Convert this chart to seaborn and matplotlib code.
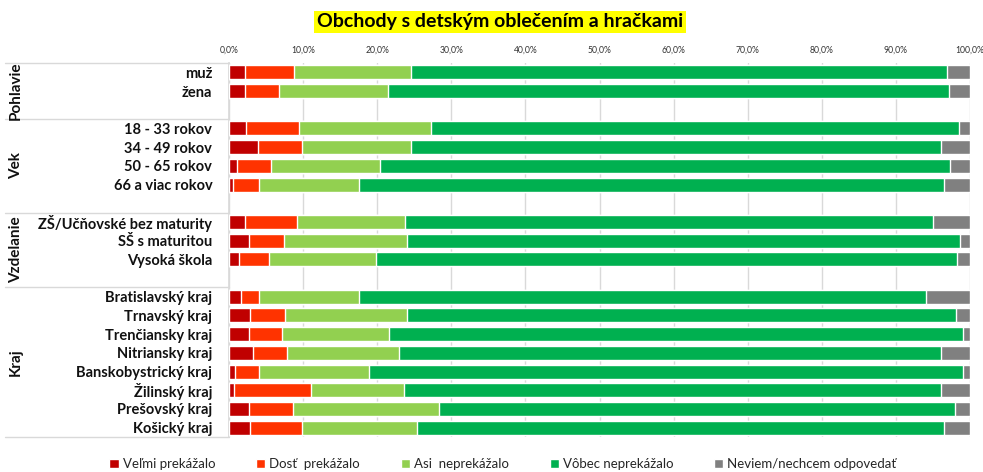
import matplotlib
matplotlib.use("Agg")
import matplotlib.pyplot as plt
import seaborn as sns
import pandas as pd
import numpy as np

categories = ["muž", "žena",
              "18 - 33 rokov", "34 - 49 rokov", "50 - 65 rokov", "66 a viac rokov",
              "ZŠ/Učňovské bez maturity", "SŠ s maturitou", "Vysoká škola",
              "Bratislavský kraj", "Trnavský kraj", "Trenčiansky kraj", "Nitriansky kraj",
              "Banskobystrický kraj", "Žilinský kraj", "Prešovský kraj", "Košický kraj"]
groups = ["Pohlavie", "Vek", "Vzdelanie", "Kraj"]
group_sizes = [2, 4, 3, 8]

velmi = [2.2, 2.1, 2.3, 3.9, 1.1, 0.5, 2.2, 2.7, 1.3, 1.6, 2.9, 2.7, 3.2, 0.8, 0.7, 2.7, 2.8]
dost = [6.6, 4.6, 7.2, 6.0, 4.6, 3.6, 7.0, 4.7, 4.1, 2.5, 4.7, 4.4, 4.6, 3.3, 10.3, 6.0, 7.0]
asi = [15.8, 14.8, 17.8, 14.7, 14.7, 13.5, 14.5, 16.6, 14.5, 13.5, 16.4, 14.5, 15.1, 14.8, 12.6, 19.7, 15.6]
vobec = [72.3, 75.7, 71.2, 71.5, 76.9, 78.9, 71.3, 74.7, 78.3, 76.5, 74.1, 77.5, 73.2, 80.2, 72.5, 69.6, 71.1]
neviem = [3.1, 2.8, 1.5, 3.9, 2.7, 3.5, 5.0, 1.3, 1.8, 5.9, 1.9, 0.9, 3.9, 0.9, 3.9, 2.0, 3.5]

series_names = ["Veľmi prekážalo", "Dosť  prekážalo", "Asi  neprekážalo", "Vôbec neprekážalo",
                "Neviem/nechcem odpovedať"]
colors = ["#C00000", "#FF3300", "#92D050", "#00B050", "#808080"]
ticks = [0, 10, 20, 30, 40, 50, 60, 70, 80, 90, 100]

sns.set_theme(style="white")
plt.rcParams['font.family'] = ['Lato', 'DejaVu Sans']

# build order with blank slots after each group
order = []
labels = []
idx = 0
for gi, n in enumerate(group_sizes):
    for k in range(n):
        order.append(categories[idx]); labels.append(categories[idx]); idx += 1
    if gi < len(group_sizes) - 1:
        blank = " " * (gi + 1)
        order.append(blank); labels.append("")

df = pd.DataFrame({"cat": categories})
vals = np.array([velmi, dost, asi, vobec, neviem])
cum = np.cumsum(vals, axis=0)
cum = cum / cum[-1] * 100.0

fig = plt.figure(figsize=(9.83, 4.72), dpi=100)
ax = fig.add_axes([229/983, 1 - 437/472, 741/983, 374/472])

for i in range(4, -1, -1):
    d = df.copy()
    d["v"] = cum[i]
    sns.barplot(data=d, x="v", y="cat", order=order, orient="h", color=colors[i],
                saturation=1, width=0.75, ax=ax, label=series_names[i], zorder=3)

ax.set_xlim(0, 100)
ax.set_ylim(len(order) - 0.5, -0.5)
ax.set_xticks(ticks)
ax.set_xticklabels([f"{t:.1f}%".replace(".", ",") for t in ticks], fontsize=6.2, color="#333333")
ax.xaxis.tick_top()
ax.tick_params(axis="x", length=0, pad=6)
ax.set_yticks(range(len(order)))
ax.set_yticklabels(labels, fontsize=10.5, fontweight="bold", color="#111111")
ax.tick_params(axis="y", length=0, pad=12)
ax.set_xlabel(""); ax.set_ylabel("")
ax.grid(axis="x", color="#D9D9D9", linewidth=1, zorder=0)
for s in ["top", "right", "bottom"]:
    ax.spines[s].set_visible(False)
ax.spines["left"].set_color("#D9D9D9")

# separators and group labels
ytr = ax.get_yaxis_transform()
bounds = [-0.5, 2.5, 7.5, 11.5, 19.5]
x0 = (5 - 229) / 741
for b in bounds:
    ax.plot([x0, 0], [b, b], transform=ytr, color="#D9D9D9", linewidth=1, clip_on=False)
xg = (16 - 229) / 741
for gi, g in enumerate(groups):
    yc = (bounds[gi] + bounds[gi + 1]) / 2
    ax.text(xg, yc, g, transform=ytr, rotation=90, ha="center", va="center",
            fontsize=11, fontweight="bold", color="#111111")

fig.text(500/983, 1 - 22/472, "Obchody s detským oblečením a hračkami", ha="center", va="center",
         fontsize=14, fontweight="bold", color="black",
         bbox=dict(facecolor="#FFFF00", edgecolor="none", pad=2))

handles, lbls = ax.get_legend_handles_labels()
hmap = dict(zip(lbls, handles))
leg = fig.legend([hmap[n] for n in series_names], series_names, loc="center",
                 bbox_to_anchor=(503/983, 1 - 464/472), ncol=5, frameon=False,
                 fontsize=9.5, handlelength=0.7, handleheight=0.7, columnspacing=3.1,
                 handletextpad=0.3)
if ax.get_legend() is not None:
    ax.get_legend().remove()

fig.savefig("out.png", dpi=100)
